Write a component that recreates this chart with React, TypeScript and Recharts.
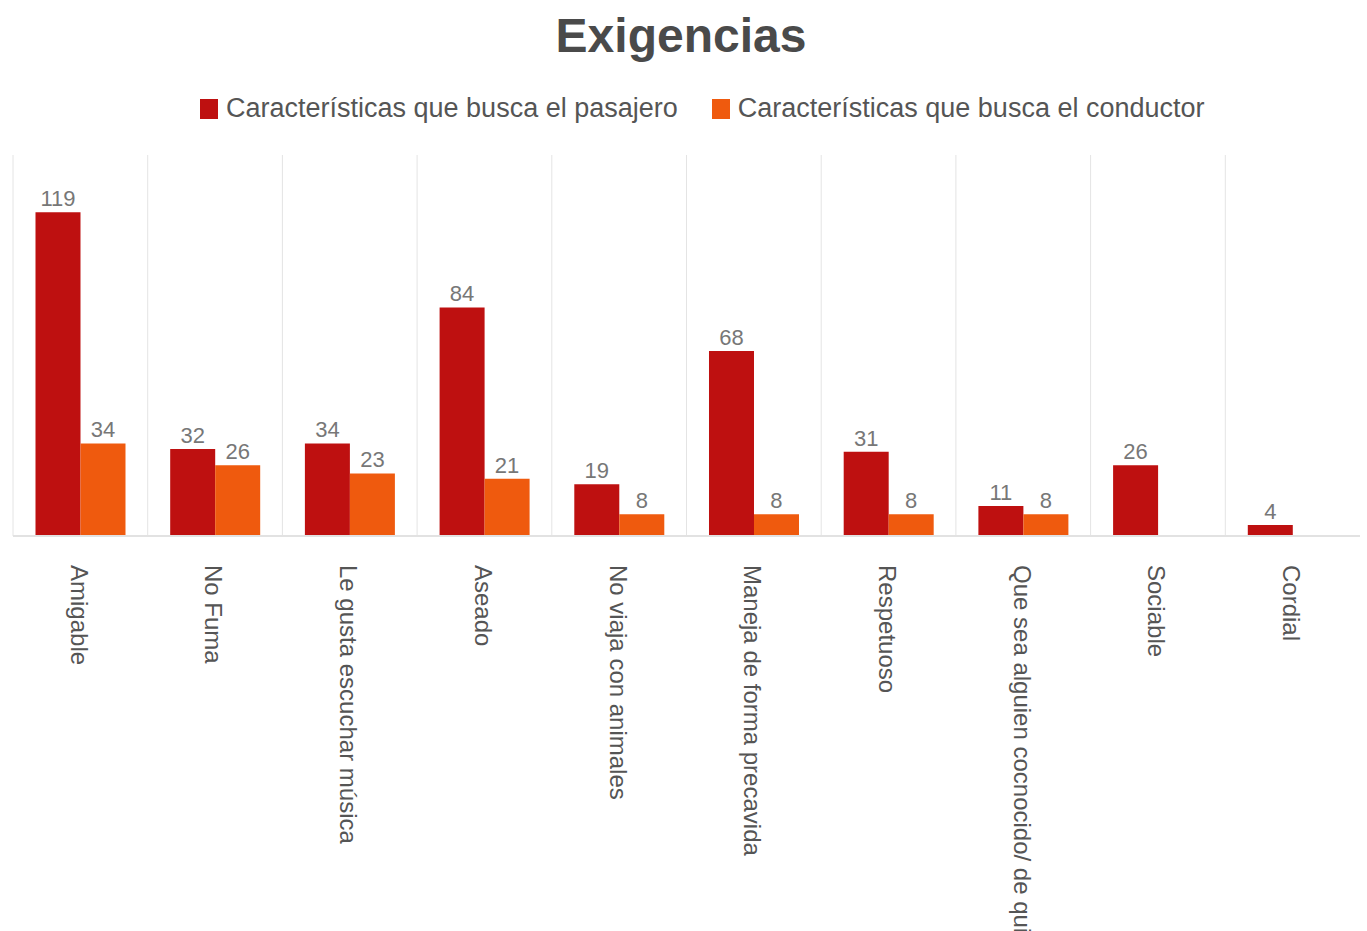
import { Bar, BarChart, CartesianGrid, LabelList, Legend, XAxis, YAxis } from "recharts";

const categories = [
  "Amigable",
  "No Fuma",
  "Le gusta escuchar música",
  "Aseado",
  "No viaja con animales",
  "Maneja de forma precavida",
  "Respetuoso",
  "Que sea alguien cocnocido/ de quien",
  "Sociable",
  "Cordial",
];
const pasajero = [119, 32, 34, 84, 19, 68, 31, 11, 26, 4];
const conductor: (number | null)[] = [34, 26, 23, 21, 8, 8, 8, 8, null, null];

const SERIES = [
  { key: "pasajero", label: "Características que busca el pasajero", color: "#BE1010" },
  { key: "conductor", label: "Características que busca el conductor", color: "#EF5A0E" },
];

const FONT = '"Liberation Sans", Arial, sans-serif';

const data = categories.map((name, i) => ({
  name,
  pasajero: pasajero[i],
  conductor: conductor[i],
}));

function CategoryTick({ x, y, payload }: any) {
  return (
    <g transform={`translate(${x},${y + 29})`}>
      <text
        transform="rotate(90)"
        x={0}
        y={0}
        dy="0.4em"
        textAnchor="start"
        fontSize={24}
        fill="#555"
        fontFamily={FONT}
      >
        {payload.value}
      </text>
    </g>
  );
}

// keep legend in series order (recharts sorts by name otherwise)
function LegendRow({ payload }: any) {
  const items = SERIES.map((s) => (payload ?? []).find((p: any) => p.dataKey === s.key) ?? { value: s.label, color: s.color });
  return (
    <div style={{ display: "flex", alignItems: "center", fontFamily: FONT, fontSize: 27, color: "#555", whiteSpace: "nowrap" }}>
      {items.map((p: any, i: number) => (
        <div key={p.value} style={{ display: "flex", alignItems: "center", marginRight: i === 0 ? 34 : 0 }}>
          <span style={{ display: "inline-block", width: 18, height: 20, background: p.color, marginRight: 8 }} />
          <span>{p.value}</span>
        </div>
      ))}
    </div>
  );
}

export default function App() {
  return (
    <div style={{ position: "absolute", left: 0, top: 0, width: 1367, height: 931, background: "#fff", overflow: "hidden" }}>
      <div
        style={{
          position: "absolute",
          top: 12,
          left: 0,
          width: 1362,
          textAlign: "center",
          fontFamily: FONT,
          fontWeight: "bold",
          fontSize: 48,
          lineHeight: "48px",
          color: "#4a4a4a",
        }}
      >
        Exigencias
      </div>
      <BarChart
        width={1367}
        height={931}
        data={data}
        margin={{ top: 155, right: 7, left: 13, bottom: 0 }}
        barCategoryGap="16.7%"
        barGap={0}
      >
        <CartesianGrid
          horizontal={false}
          stroke="#e4e4e4"
          verticalCoordinatesGenerator={({ offset }: any) =>
            categories.map((_, i) => offset.left + (i * offset.width) / categories.length)
          }
        />
        <XAxis
          dataKey="name"
          interval={0}
          height={395}
          tickLine={false}
          tickSize={0}
          tickMargin={0}
          axisLine={{ stroke: "#e2e2e2", strokeWidth: 2 }}
          tick={<CategoryTick />}
        />
        <YAxis hide width={0} domain={[0, 140]} />
        <Legend
          layout="horizontal"
          verticalAlign="middle"
          align="center"
          wrapperStyle={{ top: 93, left: 200, width: "auto" }}
          content={<LegendRow />}
        />
        {SERIES.map((s) => (
          <Bar key={s.key} dataKey={s.key} name={s.label} fill={s.color} isAnimationActive={false}>
            <LabelList dataKey={s.key} position="top" offset={6} fill="#777" fontSize={22} fontFamily={FONT} />
          </Bar>
        ))}
      </BarChart>
    </div>
  );
}
